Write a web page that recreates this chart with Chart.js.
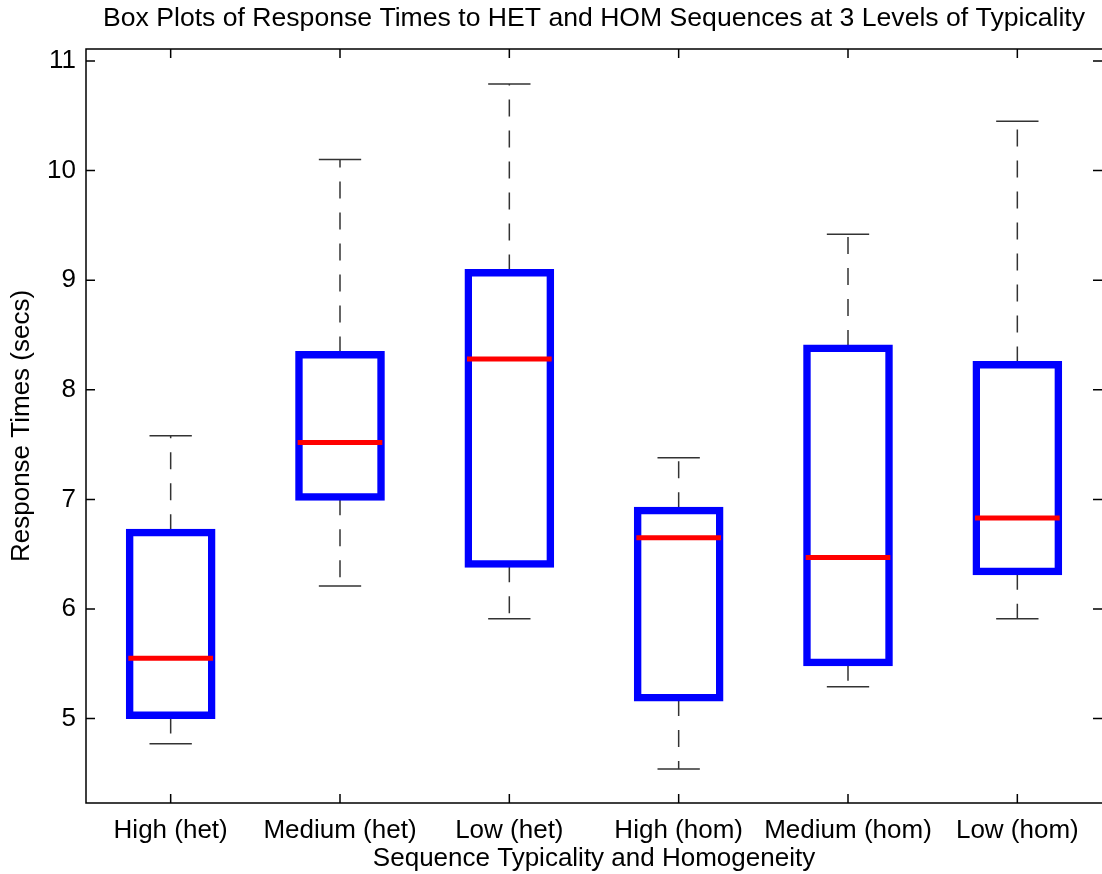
<!DOCTYPE html>
<html lang="en">
<head>
    <meta charset="UTF-8">
    <title>Box Plots of Response Times</title>
    <script src="https://cdn.jsdelivr.net/npm/chart.js"></script>
    <style>
        html, body {
            margin: 0;
            padding: 0;
            background: #fff;
        }
        #wrap {
            width: 1102px;
            height: 874px;
        }
    </style>
</head>
<body>
    <div id="wrap"><canvas id="boxChart"></canvas></div>

    <script>
        // data
        let categories = ["High (het)", "Medium (het)", "Low (het)", "High (hom)", "Medium (hom)", "Low (hom)"];
        let lowerWhisker = [4.77, 6.21, 5.91, 4.54, 5.29, 5.91];
        let q1 = [5.02, 7.01, 6.40, 5.18, 5.50, 6.33];
        let median = [5.55, 7.52, 8.28, 6.65, 6.47, 6.83];
        let q3 = [6.71, 8.33, 9.08, 6.91, 8.39, 8.24];
        let upperWhisker = [7.58, 10.10, 10.79, 7.38, 9.42, 10.45];
        let yTicks = [5, 6, 7, 8, 9, 10, 11];

        let fontFamily = "'Liberation Sans', Arial, sans-serif";

        // whiskers under the boxes, medians + axes frame on top
        const boxExtras = {
            id: "boxExtras",
            beforeDatasetsDraw(chart) {
                let ctx = chart.ctx;
                let x = chart.scales.x;
                let y = chart.scales.y;
                let capHalf = (x.getPixelForValue(1) - x.getPixelForValue(0)) * 0.125;
                ctx.save();
                ctx.strokeStyle = "#333";
                ctx.lineWidth = 1.5;
                categories.forEach((c, i) => {
                    let px = x.getPixelForValue(i);
                    // dashed stems
                    ctx.setLineDash([17, 14]);
                    ctx.beginPath();
                    ctx.moveTo(px, y.getPixelForValue(q3[i]));
                    ctx.lineTo(px, y.getPixelForValue(upperWhisker[i]));
                    ctx.moveTo(px, y.getPixelForValue(q1[i]));
                    ctx.lineTo(px, y.getPixelForValue(lowerWhisker[i]));
                    ctx.stroke();
                    // caps
                    ctx.setLineDash([]);
                    ctx.beginPath();
                    let up = y.getPixelForValue(upperWhisker[i]);
                    let lo = y.getPixelForValue(lowerWhisker[i]);
                    ctx.moveTo(px - capHalf, up);
                    ctx.lineTo(px + capHalf, up);
                    ctx.moveTo(px - capHalf, lo);
                    ctx.lineTo(px + capHalf, lo);
                    ctx.stroke();
                });
                ctx.restore();
            },
            afterDatasetsDraw(chart) {
                let ctx = chart.ctx;
                let x = chart.scales.x;
                let y = chart.scales.y;
                let meta = chart.getDatasetMeta(0);
                let area = chart.chartArea;
                ctx.save();
                ctx.strokeStyle = "#ff0000";
                ctx.lineWidth = 5;
                categories.forEach((c, i) => {
                    let bar = meta.data[i];
                    let py = y.getPixelForValue(median[i]);
                    ctx.beginPath();
                    ctx.moveTo(bar.x - bar.width / 2, py);
                    ctx.lineTo(bar.x + bar.width / 2, py);
                    ctx.stroke();
                });

                // frame and inward ticks (right edge falls off the canvas)
                ctx.strokeStyle = "#000";
                ctx.lineWidth = 1.5;
                ctx.beginPath();
                ctx.moveTo(area.right, area.top);
                ctx.lineTo(area.left, area.top);
                ctx.lineTo(area.left, area.bottom);
                ctx.lineTo(area.right, area.bottom);
                let tl = 9;
                categories.forEach((c, i) => {
                    let px = x.getPixelForValue(i);
                    ctx.moveTo(px, area.bottom);
                    ctx.lineTo(px, area.bottom - tl);
                    ctx.moveTo(px, area.top);
                    ctx.lineTo(px, area.top + tl);
                });
                yTicks.forEach(v => {
                    let py = y.getPixelForValue(v);
                    ctx.moveTo(area.left, py);
                    ctx.lineTo(area.left + tl, py);
                    ctx.moveTo(area.right, py);
                    ctx.lineTo(area.right - tl, py);
                });
                ctx.stroke();
                ctx.restore();
            }
        };

        let ctx = document.getElementById("boxChart").getContext("2d");
        new Chart(ctx, {
            type: "bar",
            data: {
                labels: categories,
                datasets: [{
                    label: "IQR",
                    data: q1.map((v, i) => [v, q3[i]]),
                    backgroundColor: "rgba(255,255,255,0)",
                    borderColor: "#0000ff",
                    // inflate + border together give a 5px outline centred on the quartile
                    borderWidth: 2.5,
                    borderSkipped: false,
                    inflateAmount: 2.5,
                    barPercentage: 0.5,
                    categoryPercentage: 1
                }]
            },
            options: {
                responsive: true,
                maintainAspectRatio: false,
                animation: false,
                layout: { padding: { left: 0, right: 0, top: 0, bottom: 0 } },
                plugins: {
                    legend: { display: false },
                    tooltip: { enabled: false },
                    title: {
                        display: true,
                        text: "Box Plots of Response Times to HET and HOM Sequences at 3 Levels of Typicality",
                        fullSize: false,
                        color: "#000",
                        font: { family: fontFamily, size: 26.6, weight: "normal", lineHeight: 1.2 },
                        padding: { top: 3, bottom: 14 }
                    }
                },
                scales: {
                    x: {
                        type: "category",
                        offset: true,
                        grid: { display: false, drawTicks: false, offset: false },
                        border: { display: false },
                        ticks: {
                            color: "#000",
                            font: { family: fontFamily, size: 26 },
                            padding: 12,
                            maxRotation: 0,
                            autoSkip: false
                        },
                        title: {
                            display: true,
                            text: "Sequence Typicality and Homogeneity",
                            color: "#000",
                            font: { family: fontFamily, size: 26, lineHeight: 1.2 },
                            padding: { top: 0, bottom: 0 }
                        },
                        afterFit(scale) { scale.height = 71; }
                    },
                    y: {
                        min: 4.23,
                        max: 11.11,
                        grid: { display: false, drawTicks: false },
                        border: { display: false },
                        ticks: {
                            stepSize: 1,
                            includeBounds: false,
                            color: "#000",
                            font: { family: fontFamily, size: 26 },
                            padding: 10
                        },
                        title: {
                            display: true,
                            text: "Response Times (secs)",
                            color: "#000",
                            font: { family: fontFamily, size: 26, lineHeight: 1.2 },
                            padding: { top: 6, bottom: 0 }
                        },
                        afterFit(scale) { scale.width = 86; }
                    }
                }
            },
            plugins: [boxExtras]
        });
    </script>
</body>
</html>
